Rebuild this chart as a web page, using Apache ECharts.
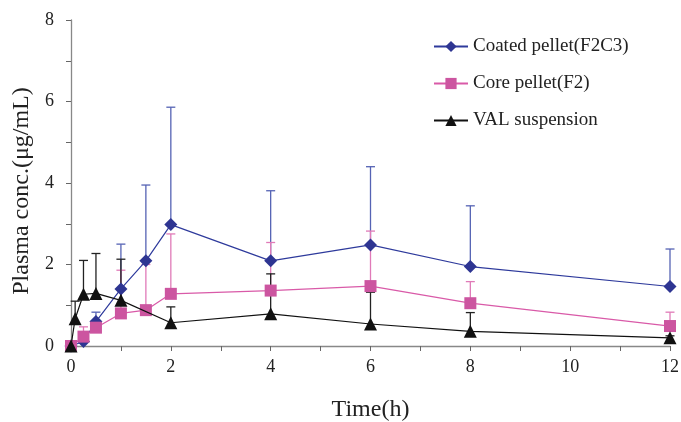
<!DOCTYPE html>
<html>
<head>
<meta charset="utf-8">
<script src="https://cdn.jsdelivr.net/npm/echarts@6/dist/echarts.min.js"></script>
<style>html,body{margin:0;padding:0;background:#fff;}#c{width:681px;height:422px;}</style>
</head>
<body>
<div id="c"></div>
<script>
const tPellet = [0, 0.25, 0.5, 1, 1.5, 2, 4, 6, 8, 12];
const coated = [0, 0.11, 0.60, 1.40, 2.09, 2.98, 2.09, 2.48, 1.95, 1.46];
const coatedUpper = [null, 0.20, 0.83, 2.50, 3.95, 5.86, 3.81, 4.40, 3.44, 2.38];
const core = [0, 0.23, 0.45, 0.80, 0.88, 1.28, 1.36, 1.47, 1.05, 0.49];
const coreUpper = [null, 0.47, 0.55, 1.86, 2.00, 2.75, 2.54, 2.82, 1.58, 0.83];
const tSusp = [0, 0.083, 0.25, 0.5, 1, 2, 4, 6, 8, 12];
const susp = [0, 0.67, 1.27, 1.29, 1.12, 0.57, 0.79, 0.54, 0.36, 0.20];
const suspUpper = [null, 1.10, 2.10, 2.27, 2.13, 0.96, 1.77, 1.32, 0.82, 0.25];
const xTicks = [0, 2, 4, 6, 8, 10, 12];
const yTicks = [0, 2, 4, 6, 8];
const names = ['Coated pellet(F2C3)', 'Core pellet(F2)', 'VAL suspension'];

const FONT = '"Liberation Serif", "Times New Roman", serif';
const pts = (t, v) => t.map((x, i) => [x, v[i]]);
const errs = (t, v, u) => t.map((x, i) => [x, u[i] == null ? v[i] : u[i], v[i]]).filter(d => d[1] > d[2]);

function errSeries(data, color) {
  return {
    type: 'custom', data: data, z: 1, silent: true,
    encode: {x: 0, y: 1},
    renderItem: function (params, api) {
      const top = api.coord([api.value(0), api.value(1)]);
      const bot = api.coord([api.value(0), api.value(2)]);
      const w = 4.5;
      return {type: 'group', children: [
        {type: 'line', shape: {x1: top[0], y1: top[1], x2: bot[0], y2: bot[1]}, style: {stroke: color, lineWidth: 1.3}},
        {type: 'line', shape: {x1: top[0] - w, y1: top[1], x2: top[0] + w, y2: top[1]}, style: {stroke: color, lineWidth: 1.3}}
      ]};
    }
  };
}

const chart = echarts.init(document.getElementById('c'));
chart.setOption({
  animation: false,
  backgroundColor: '#fff',
  grid: {left: 71, right: 11, top: 20, bottom: 76, containLabel: false, outerBoundsMode: 'none'},
  legend: {
    orient: 'vertical', left: 428, top: 32, itemGap: 18,
    itemWidth: 34, itemHeight: 14,
    textStyle: {fontFamily: FONT, fontSize: 19, color: '#222'},
    data: names
  },
  xAxis: {
    type: 'value', min: 0, max: 12, interval: 1,
    name: 'Time(h)', nameLocation: 'middle', nameGap: 52,
    nameTextStyle: {fontFamily: FONT, fontSize: 24, color: '#222'},
    axisLine: {lineStyle: {color: '#888', width: 1.3}},
    axisTick: {length: 5, lineStyle: {color: '#666'}},
    axisLabel: {fontFamily: FONT, fontSize: 18, color: '#222', margin: 12,
      formatter: v => xTicks.includes(v) ? String(v) : ''},
    splitLine: {show: false}
  },
  yAxis: {
    type: 'value', min: 0, max: 8, interval: 1,
    name: 'Plasma conc.(μg/mL)', nameLocation: 'middle', nameGap: 36,
    nameTextStyle: {fontFamily: FONT, fontSize: 24, color: '#222', padding: [0, 16, 0, 0]},
    axisLine: {show: true, lineStyle: {color: '#888', width: 1.3}},
    axisTick: {show: true, length: 5, lineStyle: {color: '#666'}},
    axisLabel: {fontFamily: FONT, fontSize: 18, color: '#222', margin: 17,
      formatter: v => yTicks.includes(v) ? String(v) : ''},
    splitLine: {show: false}
  },
  series: [
    errSeries(errs(tPellet, coated, coatedUpper), '#5563b4'),
    errSeries(errs(tPellet, core, coreUpper), '#e07ab8'),
    errSeries(errs(tSusp, susp, suspUpper), '#222'),
    {name: names[0], type: 'line', data: pts(tPellet, coated), z: 3,
      symbol: 'diamond', symbolSize: 13, showAllSymbol: true,
      lineStyle: {color: '#2e3a9c', width: 1.2},
      itemStyle: {color: '#2e3592'}},
    {name: names[1], type: 'line', data: pts(tPellet, core), z: 4,
      symbol: 'rect', symbolSize: 12, showAllSymbol: true,
      lineStyle: {color: '#d95aa8', width: 1.2},
      itemStyle: {color: '#cc55a0'}},
    {name: names[2], type: 'line', data: pts(tSusp, susp), z: 5,
      symbol: 'triangle', symbolSize: 13, showAllSymbol: true,
      lineStyle: {color: '#111', width: 1.2},
      itemStyle: {color: '#111'}}
  ]
});
</script>
</body>
</html>
